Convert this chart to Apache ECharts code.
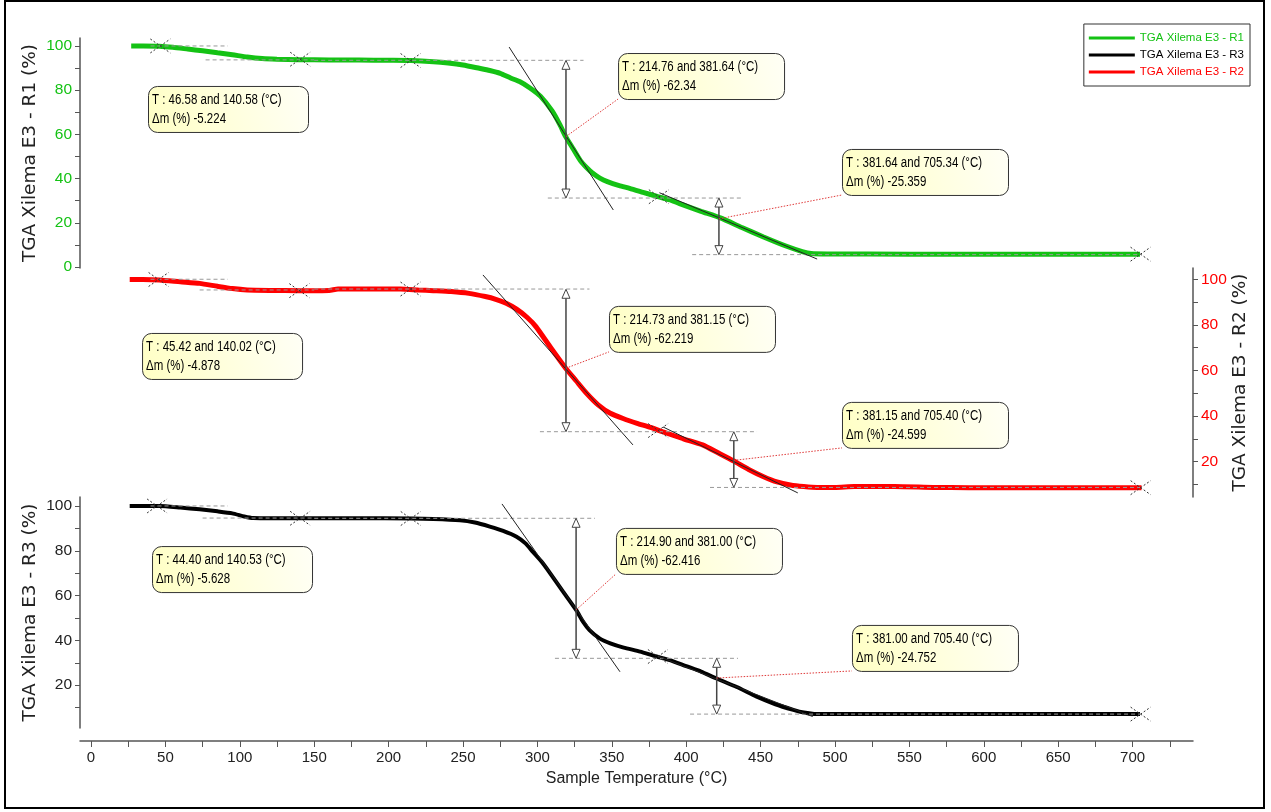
<!DOCTYPE html>
<html><head><meta charset="utf-8">
<script src="https://cdn.jsdelivr.net/npm/echarts@6/dist/echarts.min.js"></script>
<style>html,body{margin:0;padding:0;background:#fff}#c{width:1271px;height:812px}</style>
</head><body><div id="c"></div>
<script>
// ---------- DATA ----------
const seriesNames = ['TGA Xilema E3 - R1', 'TGA Xilema E3 - R2', 'TGA Xilema E3 - R3'];
const legendOrder = ['TGA Xilema E3 - R1', 'TGA Xilema E3 - R3', 'TGA Xilema E3 - R2'];
const xTickLabels = [0,50,100,150,200,250,300,350,400,450,500,550,600,650,700];
const xMinorTicks = [0,25,50,75,100,125,150,175,200,225,250,275,300,325,350,375,400,425,450,475,500,525,550,575,600,625,650,675,700,725];
const yLabelsR1 = [0,20,40,60,80,100];
const yLabelsR2 = [20,40,60,80,100];
const yLabelsR3 = [20,40,60,80,100];
const yTicksR1 = [0,10,20,30,40,50,60,70,80,90,100];
const yTicksR2 = [10,20,30,40,50,60,70,80,90,100];
const yTicksR3 = [10,20,30,40,50,60,70,80,90,100];

const r1Temp = [27,35,46,55,65,75,85,95,105,115,125,140,160,180,200,215,230,240,250,261,268,275,282,288,295,302,310,315,319,324,329,333,337,342,347,355,362,371,381,390,396,410,423,437,452,467,478,484,495,550,600,650,705];
const r1Mass = [100,100,99.9,99.4,98.6,97.8,96.9,96,95,94.3,94,93.8,93.7,93.6,93.5,93.4,92.9,92.3,91.4,89.9,88.9,87.6,85.5,83.9,81,77.3,70.5,64.5,59,53.5,48,45,42.5,40.2,38.6,36.8,35.6,33.8,31.8,30.2,28.6,25.2,22.2,18,13.6,9.5,7,6.1,5.9,5.8,5.8,5.8,5.8];

const r2Temp = [26,35,46,60,73,85,95,105,120,140,160,166,190,208,220,230,242,254,265,272,279,286,293,299,309,319,326,333,341,349,358,367,376,384,398,411,422,432,442,452,461,470,479,488,500,513,540,566,590,650,706];
const r2Mass = [100,100,99.8,99,98.3,97,96,95.4,95.2,95.1,95.2,95.8,95.8,95.8,95.4,95.1,94.7,93.9,92.5,91.3,89.6,87,83.4,79.3,70,61,55.5,50,44.8,41.2,38.8,36.8,35,33.1,30,27.3,23.6,20.2,16.5,13.3,11,9.7,9,8.6,8.6,9,9,8.6,8.5,8.5,8.5];

const r3Temp = [26,35,46,60,73,85,95,103,109,130,150,180,215,230,248,258,268,277,286,292,297,303,308,317,326,331,335,342,349,358,369,380,389,400,410,420,434,447,460,472,479,486,500,600,705];
const r3Mass = [100,100,100,99.3,98.5,97.6,96.7,95.3,94.6,94.5,94.5,94.5,94.4,94.2,93.6,92.6,90.8,88.9,86.3,83.3,79.5,75,70.5,62,53.6,48,44.6,40.8,38.7,36.8,35,32.8,31.2,28.5,26.1,23.1,19.2,15,11.5,9,7.8,7.2,7.1,7.1,7.1];

// step analysis results (text)
const r1Steps = [['46.58','140.58','-5.224'],['214.76','381.64','-62.34'],['381.64','705.34','-25.359']];
const r2Steps = [['45.42','140.02','-4.878'],['214.73','381.15','-62.219'],['381.15','705.40','-24.599']];
const r3Steps = [['44.40','140.53','-5.628'],['214.90','381.00','-62.416'],['381.00','705.40','-24.752']];

// analysis construction marks, in data units [T, mass]
const r1Markers = [[46.58,100],[140.58,94],[214.76,93.4],[381.64,31.8],[705.34,5.8]];
const r2Markers = [[45.42,100],[140.02,95.1],[214.73,95.8],[381.15,33.6],[705.4,8.5]];
const r3Markers = [[44.4,100],[140.53,94.5],[214.9,94.4],[381,32.8],[705.4,7.1]];
const r1Levels = [[40,92,100],[77,150,93.7],[150,331,93.5],[307,438,31.2],[404,705,5.6]];
const r2Levels = [[40,92,100.1],[73,150,95.4],[150,335,95.8],[301.7,447.6,33.1],[416,705,8.6]];
const r3Levels = [[40,92,100],[75,150,94.6],[150,338.7,94.5],[311.8,434.8,32],[402.6,705,7.1]];
const r1Arrows = [[319.2,93.5,31.2],[422,31.2,5.6]];
const r2Arrows = [[319.2,95.7,33.1],[432,33.1,8.6]];
const r3Arrows = [[326,94.5,32],[420.5,32,7.1]];
const r1Tangents = [[[281,99.5],[351,25.8]],[[382,33.6],[488,3.6]]];
const r2Tangents = [[[263.4,102],[364.2,27.3]],[[384.4,35.2],[475,6.2]]];
const r3Tangents = [[[276.2,100.9],[355.5,26]],[[381,33],[485,6]]];
const r1Inflections = [null,[319.2,59],[422,21.8]];
const r2Inflections = [null,[319.2,61],[432,20.5]];
const r3Inflections = [null,[326,53.6],[420.5,23.2]];

// ---------- LAYOUT ----------
const boxAnchors = [
  [[38.3,81.9],[354.2,96.8],[504.7,53.4]],
  [[34.3,76.5],[348.1,88.4],[504.7,46.2]],
  [[41,82.1],[352.8,90.2],[511.4,46.9]]
];
const GREEN = '#14c214', RED = '#ff0000', BLACK = '#000000';
const SANS = '"Liberation Sans",Arial,sans-serif';
const AXC = '#555';
const XMIN = -7.4, XMAX = 740.6;

function zip(a, b) { return a.map((t, i) => [t, b[i]]); }

function xAx(gi, show) {
  const o = { gridIndex: gi, type: 'value', min: XMIN, max: XMAX, show: show, splitLine: { show: false },
    axisLine: { show: true, onZero: false, lineStyle: { color: AXC, width: 1.5 } } };
  if (show) {
    Object.assign(o, {
      offset: 13,
      axisTick: { show: true, customValues: xMinorTicks, length: 6, lineStyle: { color: AXC } },
      axisLabel: { customValues: xTickLabels, fontFamily: SANS, fontSize: 15, color: '#222', margin: 9 },
      name: 'Sample Temperature (°C)', nameLocation: 'middle', nameGap: 30,
      nameTextStyle: { fontFamily: SANS, fontSize: 16, color: '#222' }
    });
  }
  return o;
}
function yAx(gi, pos, min, max, labels, ticks, color, name, gap) {
  return { gridIndex: gi, type: 'value', position: pos, min: min, max: max, splitLine: { show: false },
    axisLine: { show: true, onZero: false, lineStyle: { color: AXC, width: 1.5 } },
    axisTick: { show: true, customValues: ticks, length: 5, lineStyle: { color: AXC } },
    axisLabel: { customValues: labels, color: color, fontFamily: SANS, fontSize: 15.5, margin: 8 },
    name: name, nameLocation: 'middle', nameRotate: 90, nameGap: gap, nameMoveOverlap: false,
    nameTextStyle: { fontFamily: '"DejaVu Sans"', fontSize: 18.5, color: '#222' } };
}

const option = {
  animation: false,
  backgroundColor: '#fff',
  grid: [
    { left: 80, right: 78, top: 38, height: 230 },
    { left: 80, right: 78, top: 268, height: 229 },
    { left: 80, right: 78, top: 497, height: 231 }
  ],
  xAxis: [xAx(0, false), xAx(1, false), xAx(2, true)],
  yAxis: [
    yAx(0, 'left', -0.45, 103.6, yLabelsR1, yTicksR1, GREEN, 'TGA Xilema E3 - R1 (%)', 40),
    yAx(1, 'right', 4.4, 105.05, yLabelsR2, yTicksR2, RED, 'TGA Xilema E3 - R2 (%)', 38),
    yAx(2, 'left', 0.9, 104.0, yLabelsR3, yTicksR3, '#222', 'TGA Xilema E3 - R3 (%)', 40)
  ],
  legend: {
    orient: 'vertical', right: 21, top: 24, icon: 'rect', itemWidth: 46, itemHeight: 3, itemGap: 5,
    backgroundColor: '#fff', borderColor: '#333', borderWidth: 1, padding: [8, 6, 8, 5],
    textStyle: { fontFamily: SANS, fontSize: 11.5 },
    data: [
      { name: legendOrder[0], textStyle: { color: GREEN } },
      { name: legendOrder[1], textStyle: { color: BLACK } },
      { name: legendOrder[2], textStyle: { color: RED } }
    ]
  },
  series: [
    { type: 'line', name: seriesNames[0], xAxisIndex: 0, yAxisIndex: 0, data: zip(r1Temp, r1Mass), symbol: 'none', smooth: 0.2,
      lineStyle: { color: GREEN, width: 5 }, itemStyle: { color: GREEN } },
    { type: 'line', name: seriesNames[1], xAxisIndex: 1, yAxisIndex: 1, data: zip(r2Temp, r2Mass), symbol: 'none', smooth: 0.2,
      lineStyle: { color: RED, width: 5 }, itemStyle: { color: RED } },
    { type: 'line', name: seriesNames[2], xAxisIndex: 2, yAxisIndex: 2, data: zip(r3Temp, r3Mass), symbol: 'none', smooth: 0.2,
      lineStyle: { color: BLACK, width: 4 }, itemStyle: { color: BLACK } }
  ]
};

const chart = echarts.init(document.getElementById('c'), null, { renderer: 'canvas' });
chart.setOption(option);

// ---------- ANNOTATIONS ----------
const panels = [
  { steps: r1Steps, markers: r1Markers, levels: r1Levels, arrows: r1Arrows, tangents: r1Tangents, infl: r1Inflections, boxes: boxAnchors[0] },
  { steps: r2Steps, markers: r2Markers, levels: r2Levels, arrows: r2Arrows, tangents: r2Tangents, infl: r2Inflections, boxes: boxAnchors[1] },
  { steps: r3Steps, markers: r3Markers, levels: r3Levels, arrows: r3Arrows, tangents: r3Tangents, infl: r3Inflections, boxes: boxAnchors[2] }
];
const ctx = document.createElement('canvas').getContext('2d');
const BOXFONT = '14px ' + SANS;
const SQ = 0.82;
ctx.font = BOXFONT;
const els = [];
function P(gi, p) { return chart.convertToPixel({ gridIndex: gi }, p); }
function line(a, b, style, z) {
  els.push({ type: 'line', silent: true, z: z || 20, shape: { x1: a[0], y1: a[1], x2: b[0], y2: b[1] }, style: style });
}
panels.forEach((pn, gi) => {
  pn.levels.forEach(l => line(P(gi, [l[0], l[2]]), P(gi, [l[1], l[2]]), { stroke: '#999', lineWidth: 1, lineDash: [4, 3] }));
  pn.tangents.forEach(t => line(P(gi, t[0]), P(gi, t[1]), { stroke: '#222', lineWidth: 1 }, 21));
  pn.markers.forEach(m => {
    const c = P(gi, m);
    line([c[0] - 10, c[1] - 7], [c[0] + 10, c[1] + 7], { stroke: '#333', lineWidth: 1, lineDash: [2, 2] }, 22);
    line([c[0] - 10, c[1] + 7], [c[0] + 10, c[1] - 7], { stroke: '#333', lineWidth: 1, lineDash: [2, 2] }, 22);
  });
  pn.arrows.forEach(a => {
    const top = P(gi, [a[0], a[1]]), bot = P(gi, [a[0], a[2]]);
    line([top[0], top[1] + 9], [bot[0], bot[1] - 9], { stroke: '#444', lineWidth: 1.5 }, 23);
    els.push({ type: 'polygon', silent: true, z: 24, shape: { points: [[top[0], top[1]], [top[0] - 4, top[1] + 9], [top[0] + 4, top[1] + 9]] },
      style: { fill: '#fff', stroke: '#444', lineWidth: 1 } });
    els.push({ type: 'polygon', silent: true, z: 24, shape: { points: [[bot[0], bot[1]], [bot[0] - 4, bot[1] - 9], [bot[0] + 4, bot[1] - 9]] },
      style: { fill: '#fff', stroke: '#444', lineWidth: 1 } });
  });
  pn.steps.forEach((s, k) => {
    const l1 = 'T : ' + s[0] + ' and ' + s[1] + ' (°C)';
    const l2 = '\u0394m (%) ' + s[2];
    const w = Math.round(Math.max(ctx.measureText(l1).width, ctx.measureText(l2).width) * SQ + 30);
    const h = 46;
    const tl = P(gi, pn.boxes[k]);
    if (pn.infl[k]) {
      line(P(gi, pn.infl[k]), [tl[0], tl[1] + h], { stroke: '#e03a3a', lineWidth: 1, lineDash: [1.5, 1.5] }, 25);
    }
    els.push({ type: 'rect', silent: true, z: 30, shape: { x: tl[0] + 0.5, y: tl[1] + 0.5, width: w, height: h, r: 9 },
      style: { fill: new echarts.graphic.LinearGradient(0, 1, 1, 0, [{ offset: 0, color: '#ffffc4' }, { offset: 1, color: '#fffff6' }]),
        stroke: '#333', lineWidth: 1 } });
    els.push({ type: 'text', silent: true, z: 31, x: tl[0] + 4, y: tl[1] + 14, scaleX: SQ, scaleY: 1.05,
      style: { text: l1, font: BOXFONT, fill: '#000', verticalAlign: 'middle' } });
    els.push({ type: 'text', silent: true, z: 31, x: tl[0] + 4, y: tl[1] + 33, scaleX: SQ, scaleY: 1.05,
      style: { text: l2, font: BOXFONT, fill: '#000', verticalAlign: 'middle' } });
  });
});
// outer frame
els.push({ type: 'rect', silent: true, z: 50, shape: { x: 5, y: 1, width: 1259, height: 807 },
  style: { fill: 'none', stroke: '#000', lineWidth: 2 } });
chart.setOption({ graphic: { elements: els } });
</script></body></html>
